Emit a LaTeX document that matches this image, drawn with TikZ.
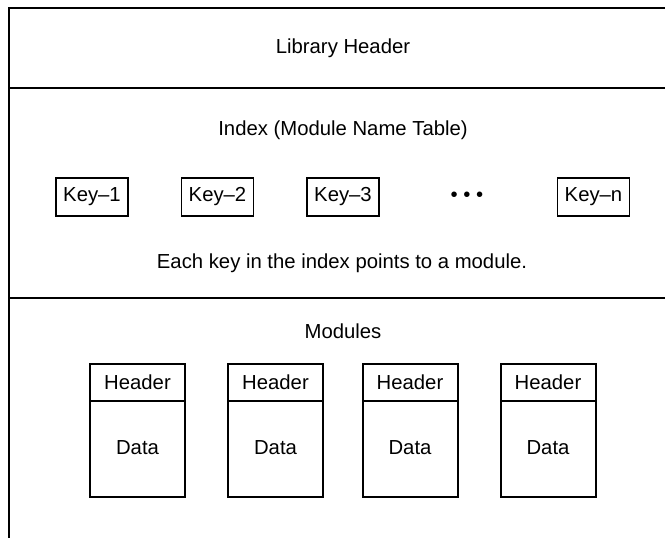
\documentclass[tikz,border=0pt]{standalone}
\usepackage{fontspec}
\setmainfont{Liberation Sans}
\begin{document}
\begin{tikzpicture}[x=1pt,y=-1pt,
  every node/.style={font=\fontsize{20.3}{24}\selectfont, inner sep=0pt, outer sep=0pt},
  frameline/.style={line width=2pt, line cap=rect},
  keybox/.style={draw, line width=1.6pt, minimum width=72pt, minimum height=38pt},
  modhead/.style={draw, line width=2pt, minimum width=95pt, minimum height=37pt},
  moddata/.style={draw, line width=2pt, minimum width=95pt, minimum height=96pt},
  label/.style={}]
\useasboundingbox (0,0) rectangle (665,538);
% frame
\coordinate (tl) at (8.5,7.5);
\coordinate (tr) at (666,7.5);
\coordinate (bl) at (8.5,539);
\coordinate (m1l) at (8.5,88);
\coordinate (m1r) at (666,88);
\coordinate (m2l) at (8.5,298);
\coordinate (m2r) at (666,298);
\draw[frameline] (tr) -- (tl) -- (bl);
\draw[frameline] (m1l) -- (m1r);
\draw[frameline] (m2l) -- (m2r);
% texts
\node[label] (libhdr) at (343,48) {Library Header};
\node[label] (idx) at (343,130) {Index (Module Name Table)};
\node[label] (each) at (342,263) {Each key in the index points to a module.};
\node[label] (mods) at (343,331) {Modules};
% keys
\node[keybox] (k1) at (92,197) {Key--1};
\node[keybox] (k2) at (217.5,197) {Key--2};
\node[keybox] (k3) at (343,197) {Key--3};
\node[label] (dots) at (467,197) {• • •};
\node[keybox] (kn) at (593.5,197) {Key--n};
% modules
\foreach \i/\cx in {1/137.5, 2/275.5, 3/410, 4/548} {
  \node[modhead] (h\i) at (\cx,382.5) {Header};
  \node[moddata, anchor=north] (d\i) at (h\i.south) {};
  \node[label] (dt\i) at (\cx,448) {Data};
}
\end{tikzpicture}
\end{document}
